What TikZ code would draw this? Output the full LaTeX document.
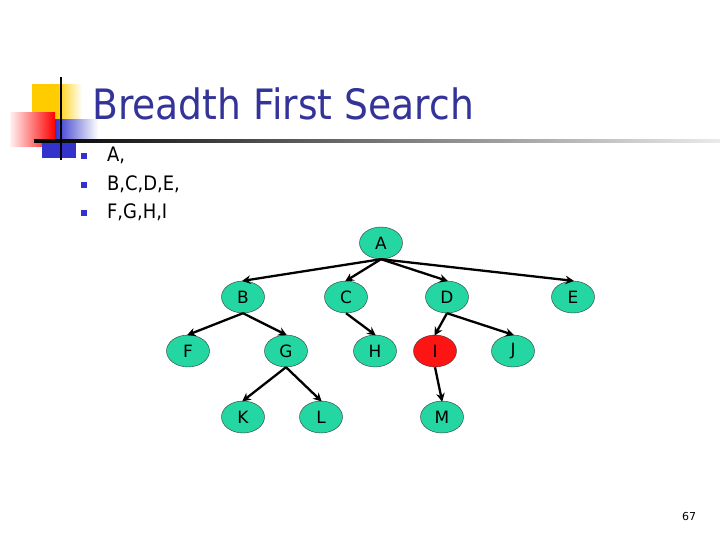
\documentclass[tikz,border=0pt]{standalone}
\usepackage{fontspec}
\setmainfont{DejaVu Sans}
\usepackage{tikz}
\usetikzlibrary{arrows.meta,shapes.geometric}
\definecolor{tnavy}{HTML}{333399}
\definecolor{tblue}{HTML}{3333CC}
\definecolor{tgold}{HTML}{FFCC00}
\definecolor{tgreen}{HTML}{24D6A2}
\definecolor{tred}{HTML}{FF1414}

\begin{document}
\begin{tikzpicture}[
  x=1bp, y=-1bp,
  vtx/.style={ellipse,draw=black!80,thin,fill=tgreen,minimum width=43bp,minimum height=32bp,
              inner sep=0pt,font=\fontsize{17}{17}\selectfont},
  hot/.style={vtx,fill=tred},
  arr/.style={-{Stealth[length=8.5bp,width=8.5bp]},draw=black,line width=2.3bp,shorten >=-1bp},
  blt/.style={rectangle,fill=tblue,minimum size=6bp,inner sep=0pt},
  itm/.style={anchor=base west,inner sep=0pt,font=\fontsize{20}{20}\selectfont,
              xscale=0.9,transform shape},
  ttl/.style={anchor=base west,inner sep=0pt,text=tnavy,font=\fontsize{42}{42}\selectfont,
              xscale=0.9,transform shape}]
\useasboundingbox[fill=white] (0,0) rectangle (720,540);

% ---------------- corner mark ----------------
\shade[left color=tgold,right color=white,middle color=tgold] (32,85) rectangle (82,130);
\shade[left color=red!5,right color=red] (10,113) rectangle (55,147);
\shade[left color=tblue,right color=white] (55,120) rectangle (98,141);
\fill[tblue] (42,141) rectangle (76,158);
\shade[left color=black,right color=black!8] (34,139.8) rectangle (720,142.2);
\fill[black] (59.8,77) rectangle (62.2,160);

% ---------------- title and list ----------------
\node[ttl] (title) at (92,120) {Breadth First Search};
\node[blt] (p1) at (84,156) {}; \node[itm] (t1) at (107,162) {A,};
\node[blt] (p2) at (84,185) {}; \node[itm] (t2) at (107,191) {B,C,D,E,};
\node[blt] (p3) at (84,213) {}; \node[itm] (t3) at (107,219) {F,G,H,I};

% ---------------- tree ----------------
\node[vtx] (a) at (381,243) {A};
\node[vtx] (b) at (243,297) {B};
\node[vtx] (c) at (346,297) {C};
\node[vtx] (d) at (447,297) {D};
\node[vtx] (e) at (573,297) {E};
\node[vtx] (f) at (188,351) {F};
\node[vtx] (g) at (286,351) {G};
\node[vtx] (h) at (375,351) {H};
\node[hot] (i) at (435,351) {I};
\node[vtx] (j) at (513,351) {J};
\node[vtx] (k) at (243,417) {K};
\node[vtx] (l) at (321,417) {L};
\node[vtx] (m) at (442,417) {M};

\draw[arr] (a.south) -- (b.north); \draw[arr] (a.south) -- (c.north);
\draw[arr] (a.south) -- (d.north); \draw[arr] (a.south) -- (e.north);
\draw[arr] (b.south) -- (f.north); \draw[arr] (b.south) -- (g.north);
\draw[arr] (c.south) -- (h.north);
\draw[arr] (d.south) -- (i.north); \draw[arr] (d.south) -- (j.north);
\draw[arr] (g.south) -- (k.north); \draw[arr] (g.south) -- (l.north);
\draw[arr] (i.south) -- (m.north);

% ---------------- page number ----------------
\node[anchor=base,inner sep=0pt,font=\fontsize{11}{11}\selectfont] (pg) at (689,520) {67};
\end{tikzpicture}
\end{document}
